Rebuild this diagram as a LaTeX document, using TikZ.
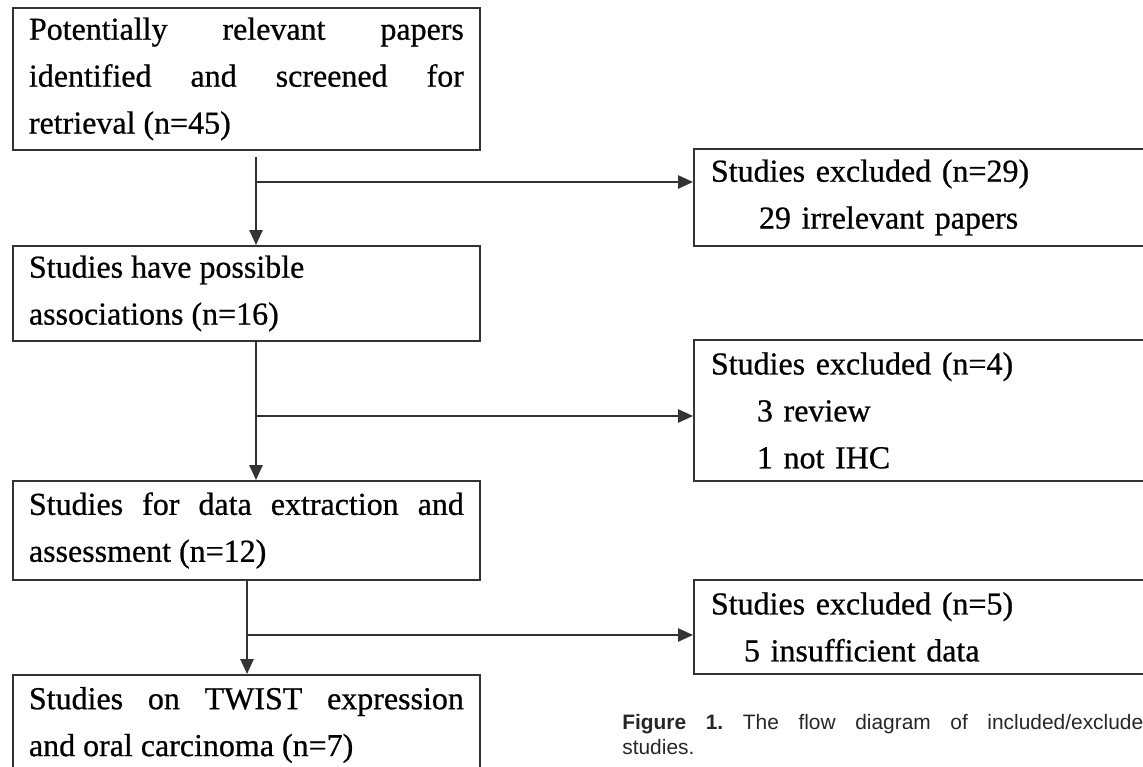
\documentclass[tikz,border=0pt]{standalone}
\usepackage{fontspec}
\setmainfont{Liberation Serif}[RawFeature={embolden=0.7}]
\newfontfamily\capfont{Liberation Sans}
\usetikzlibrary{arrows.meta,positioning}

\tikzset{
  flowbox/.style={draw=black!80,line width=1.1pt,anchor=north west,inner xsep=0.32cm,inner ysep=0pt,
    font=\fontsize{18.2pt}{26.7pt}\selectfont},
  leftbox/.style={flowbox,text width=8.7cm,minimum width=9.34cm,align=justify},
  exclbox/.style={flowbox,inner xsep=0.34cm,text width=8.66cm,minimum width=9.34cm,align=left},
  flowarrow/.style={draw=black!80,line width=1.1pt,-{Triangle[length=8.5pt,width=7.5pt]}},
}

\begin{document}
\begin{tikzpicture}[x=0.02cm,y=-0.02cm]
  \useasboundingbox (0,0) rectangle (1143,767);
  \node[leftbox,minimum height=2.84cm] (papers) at (12,7) {Potentially relevant papers\linebreak identified and screened for\linebreak retrieval (n=45)};
  \node[leftbox,minimum height=1.9cm] (possible) at (12,245) {Studies have possible\\ associations (n=16)};
  \node[leftbox,minimum height=1.98cm] (extract) at (12,480) {Studies for data extraction and\linebreak assessment (n=12)};
  \node[leftbox,minimum height=2cm] (twist) at (12,674) {Studies on TWIST expression\linebreak and oral carcinoma (n=7)};

  \node[exclbox,minimum height=1.94cm] (irrel) at (693,148) {Studies excluded (n=29)\\\hspace*{0.96cm}29 irrelevant papers};
  \node[exclbox,minimum height=2.82cm] (review) at (693,339) {Studies excluded (n=4)\\\hspace*{0.92cm}3 review\\\hspace*{0.92cm}1 not IHC};
  \node[exclbox,minimum height=1.88cm] (insuff) at (693,579) {Studies excluded (n=5)\\\hspace*{0.66cm}5 insufficient data};

  \coordinate (j1) at (256,182);
  \coordinate (j2) at (256,416);
  \coordinate (j3) at (247,635);
  \draw[flowarrow] ([yshift=-0.12cm]papers.south -| j1) -- (possible.north -| j1);
  \draw[flowarrow] (j1) -- (j1 -| irrel.west);
  \draw[flowarrow] (possible.south -| j2) -- (extract.north -| j2);
  \draw[flowarrow] (j2) -- (j2 -| review.west);
  \draw[flowarrow] (extract.south -| j3) -- (twist.north -| j3);
  \draw[flowarrow] (j3) -- (j3 -| insuff.west);

  \node[anchor=north west,inner sep=0pt,text width=10.42cm,align=justify,text=black!85,
    font=\capfont\fontsize{11.9pt}{14.2pt}\selectfont\frenchspacing] (caption) at (622,714)
    {\textbf{Figure 1.} The flow diagram of included/exclude\linebreak studies.};
\end{tikzpicture}
\end{document}
